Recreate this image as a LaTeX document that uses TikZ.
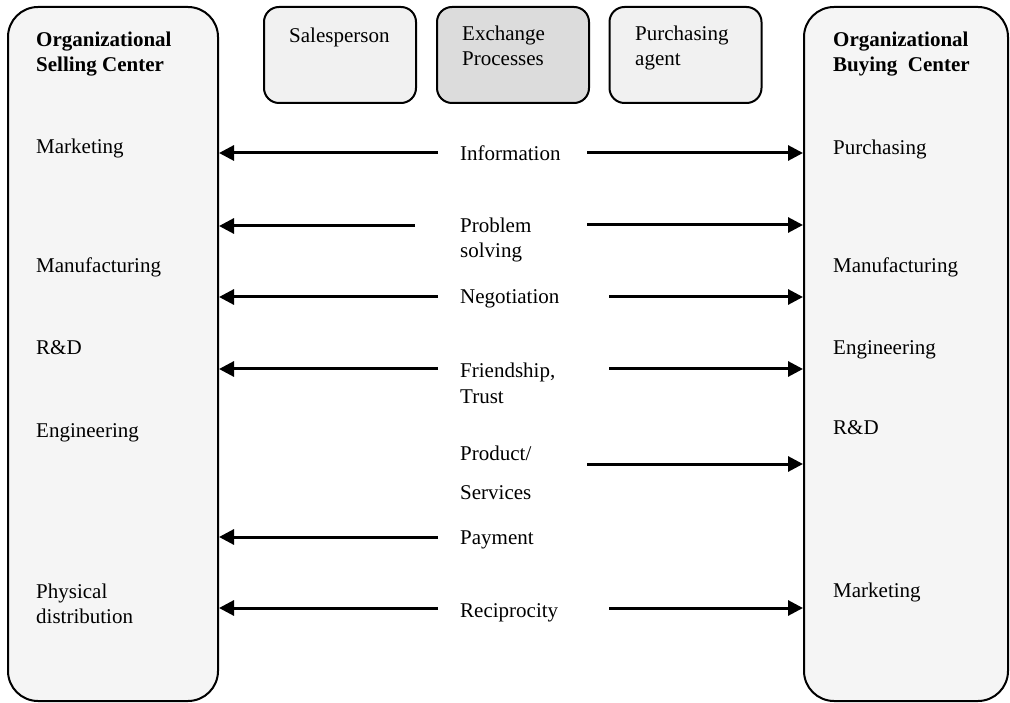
\documentclass[tikz,border=0pt]{standalone}
\usepackage{fontspec}
\setmainfont{Liberation Serif}
\usetikzlibrary{arrows.meta}
\definecolor{centerfill}{HTML}{F5F5F5}
\definecolor{rolefill}{HTML}{F1F1F1}
\definecolor{processfill}{HTML}{DCDCDC}
\begin{document}
\begin{tikzpicture}[x=1pt,y=-1pt,font=\fontsize{21}{25}\selectfont,
		centerbox/.style={draw,line width=2pt,rounded corners=30pt,fill=centerfill,minimum height=694pt,inner sep=0pt},
		rolebox/.style={draw,line width=2pt,rounded corners=15pt,fill=rolefill,minimum width=152pt,minimum height=96pt,inner sep=0pt},
		lbl/.style={anchor=base west,inner sep=0pt,align=left},
		flow/.style={line width=3pt,-{Triangle[length=15pt,width=15pt]}}]
	\useasboundingbox (0,0) rectangle (1010,703);
	\node[centerbox,minimum width=210pt] (sell) at (113,354) {};
	\node[centerbox,minimum width=204pt] (buy) at (906,354) {};
	\node[rolebox] (sales) at (340,55) {};
	\node[rolebox,fill=processfill] (exch) at (513,55) {};
	\node[rolebox] (purch) at (685.5,55) {};
	\node[lbl] (salesT) at (289,43) {Salesperson};
	\node[lbl] (exchT) at (462,66) {Exchange\\Processes};
	\node[lbl] (purchT) at (635,66) {Purchasing\\agent};
	\node[lbl,font=\fontsize{21}{25}\selectfont\bfseries] (sellT) at (36,72) {Organizational\\Selling Center};
	\node[lbl] (sellA) at (36,154) {Marketing};
	\node[lbl] (sellB) at (36,273) {Manufacturing};
	\node[lbl] (sellC) at (36,355) {R\&D};
	\node[lbl] (sellD) at (36,437) {Engineering};
	\node[lbl] (sellE) at (36,623) {Physical\\distribution};
	\node[lbl,font=\fontsize{21}{25}\selectfont\bfseries] (buyT) at (833,72) {Organizational\\Buying\ \ Center};
	\node[lbl] (buyA) at (833,155) {Purchasing};
	\node[lbl] (buyB) at (833,273) {Manufacturing};
	\node[lbl] (buyC) at (833,355) {Engineering};
	\node[lbl] (buyD) at (833,435) {R\&D};
	\node[lbl] (buyE) at (833,597) {Marketing};
	\node[lbl] (info) at (460,161) {Information};
	\node[lbl] (prob) at (460,258) {Problem\\solving};
	\node[lbl] (nego) at (460,304) {Negotiation};
	\node[lbl] (friend) at (460,403) {Friendship,\\Trust};
	\node[lbl] (prod) at (460,499) {Product/\\[14pt]Services};
	\node[lbl] (pay) at (460,544) {Payment};
	\node[lbl] (recip) at (460,617) {Reciprocity};
	\coordinate (infoL) at (438,153);
	\coordinate (infoR) at (587,153);
	\coordinate (probL) at (415,226);
	\coordinate (probR) at (587,225);
	\coordinate (negoL) at (438,297);
	\coordinate (negoR) at (609,297);
	\coordinate (friendL) at (438,369);
	\coordinate (friendR) at (609,369);
	\coordinate (prodR) at (587,464);
	\coordinate (payL) at (438,537);
	\coordinate (recipL) at (438,608);
	\coordinate (recipR) at (609,608);
	\draw[flow] (infoL) -- (infoL -| sell.east);
	\draw[flow] (infoR) -- (infoR -| buy.west);
	\draw[flow] (probL) -- (probL -| sell.east);
	\draw[flow] (probR) -- (probR -| buy.west);
	\draw[flow] (negoL) -- (negoL -| sell.east);
	\draw[flow] (negoR) -- (negoR -| buy.west);
	\draw[flow] (friendL) -- (friendL -| sell.east);
	\draw[flow] (friendR) -- (friendR -| buy.west);
	\draw[flow] (prodR) -- (prodR -| buy.west);
	\draw[flow] (payL) -- (payL -| sell.east);
	\draw[flow] (recipL) -- (recipL -| sell.east);
	\draw[flow] (recipR) -- (recipR -| buy.west);
\end{tikzpicture}
\end{document}
